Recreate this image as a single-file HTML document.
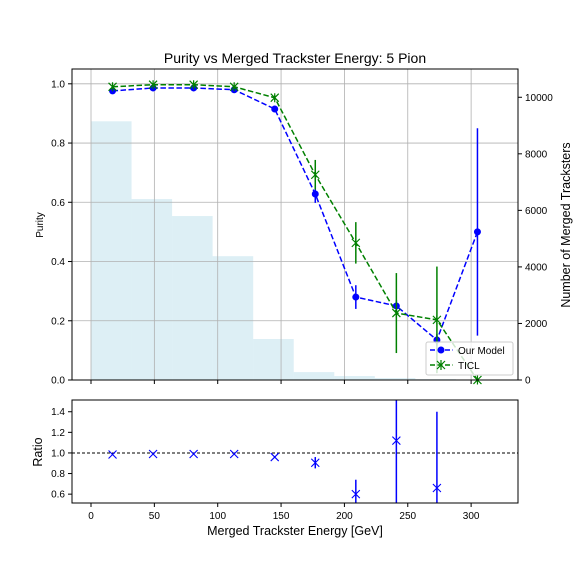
<!DOCTYPE html>
<html><head><meta charset="utf-8"><style>
body{margin:0;background:#fff;}
svg{display:block;font-family:"Liberation Sans","DejaVu Sans",sans-serif;}
</style></head><body>
<svg id="c" width="576" height="576" viewBox="0 0 576 576"></svg>
<script>
const binEdges=[0,32,64,96,128,160,192,224,256,288,320];
const histCounts=[9150,6400,5800,4380,1450,280,140,70,30,10];
const centers=[17,49,81,113,145,177,209,241,273,305];
const modelPurity=[0.976,0.986,0.986,0.98,0.915,0.628,0.28,0.25,0.135,0.50];
const modelErr=[0.005,0.005,0.005,0.005,0.01,0.03,0.04,0.02,0.02,0.35];
const ticlPurity=[0.99,0.997,0.997,0.99,0.953,0.693,0.463,0.226,0.203,0.0];
const ticlErr=[0.004,0.004,0.004,0.004,0.008,0.05,0.07,0.135,0.18,0.0];
const ratioVals=[0.985,0.99,0.99,0.99,0.96,0.905,0.60,1.12,0.66];
const ratioErr=[0.005,0.005,0.005,0.005,0.01,0.055,0.14,0.62,0.74];
const xTicks=[0,50,100,150,200,250,300];
const yTicks=[0,0.2,0.4,0.6,0.8,1.0];
const y2Ticks=[0,2000,4000,6000,8000,10000];
const rTicks=[0.6,0.8,1.0,1.2,1.4];

const NS="http://www.w3.org/2000/svg";
const svg=document.getElementById('c');
function el(tag,attrs,parent){const e=document.createElementNS(NS,tag);for(const k in attrs)e.setAttribute(k,attrs[k]);(parent||svg).appendChild(e);return e;}
const L=72,R=518,T=69,B=380,RT=400,RB=503;
const X=v=>L+(v+15)/352*(R-L);
const Y=v=>B-(v/1.05)*(B-T);
const Y2=v=>B-(v/11000)*(B-T);
const YR=v=>RB-(v-0.514)/1.0*(RB-RT);

// title
let t=el('text',{x:295,y:63,'text-anchor':'middle','font-size':14});t.textContent='Purity vs Merged Trackster Energy: 5 Pion';


// histogram
for(let i=0;i<histCounts.length;i++){
 const r=el('rect',{x:X(binEdges[i]),y:Y2(histCounts[i]),width:X(binEdges[i+1])-X(binEdges[i]),height:B-Y2(histCounts[i]),fill:'#add8e6','fill-opacity':0.42});
 
}
// grid
xTicks.forEach(v=>el('line',{x1:X(v),x2:X(v),y1:T,y2:B,stroke:'#b0b0b0','stroke-width':0.8}));
yTicks.forEach(v=>el('line',{x1:L,x2:R,y1:Y(v),y2:Y(v),stroke:'#b0b0b0','stroke-width':0.8}));

function series(vals,errs,color,marker,name){
 const g=el('g',{});
 
 vals.forEach((v,i)=>{if(errs[i]>0)el('line',{x1:X(centers[i]),x2:X(centers[i]),y1:Y(v-errs[i]),y2:Y(v+errs[i]),stroke:color,'stroke-width':1.5},g);});
 el('polyline',{points:vals.map((v,i)=>X(centers[i])+','+Y(v)).join(' '),fill:'none',stroke:color,'stroke-width':1.5,'stroke-dasharray':'5.5,2.5'},g);
 vals.forEach((v,i)=>{const x=X(centers[i]),y=Y(v);
  if(marker==='o')el('circle',{cx:x,cy:y,r:3.5,fill:color},g);
  else{el('path',{d:`M${x-4} ${y-4}L${x+4} ${y+4}M${x-4} ${y+4}L${x+4} ${y-4}M${x} ${y-4.5}L${x} ${y+4.5}`,stroke:color,'stroke-width':1.2},g);}
 });
}
series(modelPurity,modelErr,'#0000ff','o','our-model-series');
series(ticlPurity,ticlErr,'#008000','x','ticl-series');

// main axes frame
el('rect',{x:L,y:T,width:R-L,height:B-T,fill:'none',stroke:'#000','stroke-width':1});
xTicks.forEach(v=>el('line',{x1:X(v),x2:X(v),y1:B,y2:B+4,stroke:'#000'}));
yTicks.forEach(v=>{el('line',{x1:L-4,x2:L,y1:Y(v),y2:Y(v),stroke:'#000'});const s=el('text',{x:L-7,y:Y(v)+3.5,'text-anchor':'end','font-size':10});s.textContent=v.toFixed(1);});
y2Ticks.forEach(v=>{el('line',{x1:R,x2:R+4,y1:Y2(v),y2:Y2(v),stroke:'#000'});const s=el('text',{x:R+7,y:Y2(v)+3.5,'font-size':10});s.textContent=v;});
t=el('text',{x:43,y:225,'font-size':10,'text-anchor':'middle',transform:'rotate(-90 43 225)'});t.textContent='Purity';

t=el('text',{x:570,y:225,'font-size':12.5,'text-anchor':'middle',transform:'rotate(-90 570 225)'});t.textContent='Number of Merged Tracksters';


// legend
const lg=el('g',{});
el('rect',{x:426,y:342,width:87,height:33,rx:2,fill:'#fff','fill-opacity':0.8,stroke:'#ccc'},lg);
el('line',{x1:430,x2:453,y1:350,y2:350,stroke:'#0000ff','stroke-width':1.5,'stroke-dasharray':'5,2.5'},lg);
el('circle',{cx:441,cy:350,r:3.5,fill:'#0000ff'},lg);
let lt=el('text',{x:458,y:354,'font-size':10},lg);lt.textContent='Our Model';
el('line',{x1:430,x2:453,y1:365,y2:365,stroke:'#008000','stroke-width':1.5,'stroke-dasharray':'5,2.5'},lg);
el('path',{d:'M437 361L445 369M437 369L445 361M441 360L441 370',stroke:'#008000','stroke-width':1.2},lg);
lt=el('text',{x:458,y:369,'font-size':10},lg);lt.textContent='TICL';

// ratio panel
el('line',{x1:L,x2:R,y1:YR(1),y2:YR(1),stroke:'#000','stroke-width':1,'stroke-dasharray':'3,2'});
const rg=el('g',{});
ratioVals.forEach((v,i)=>{const x=X(centers[i]),y=YR(v);
 el('line',{x1:x,x2:x,y1:Math.max(YR(v+ratioErr[i]),RT),y2:Math.min(YR(v-ratioErr[i]),RB),stroke:'#0000ff','stroke-width':1.5},rg);
 el('path',{d:`M${x-4} ${y-4}L${x+4} ${y+4}M${x-4} ${y+4}L${x+4} ${y-4}`,stroke:'#0000ff','stroke-width':1.1},rg);
});
el('rect',{x:L,y:RT,width:R-L,height:RB-RT,fill:'none',stroke:'#000','stroke-width':1});
xTicks.forEach(v=>{el('line',{x1:X(v),x2:X(v),y1:RB,y2:RB+4,stroke:'#000'});const s=el('text',{x:X(v),y:RB+16,'text-anchor':'middle','font-size':10});s.textContent=v;});
rTicks.forEach(v=>{el('line',{x1:L-4,x2:L,y1:YR(v),y2:YR(v),stroke:'#000'});const s=el('text',{x:L-7,y:YR(v)+3.5,'text-anchor':'end','font-size':10});s.textContent=v.toFixed(1);});
t=el('text',{x:42,y:452,'font-size':12.5,'text-anchor':'middle',transform:'rotate(-90 42 452)'});t.textContent='Ratio';

t=el('text',{x:295,y:535,'font-size':12.5,'text-anchor':'middle'});t.textContent='Merged Trackster Energy [GeV]';

</script>
</body></html>
